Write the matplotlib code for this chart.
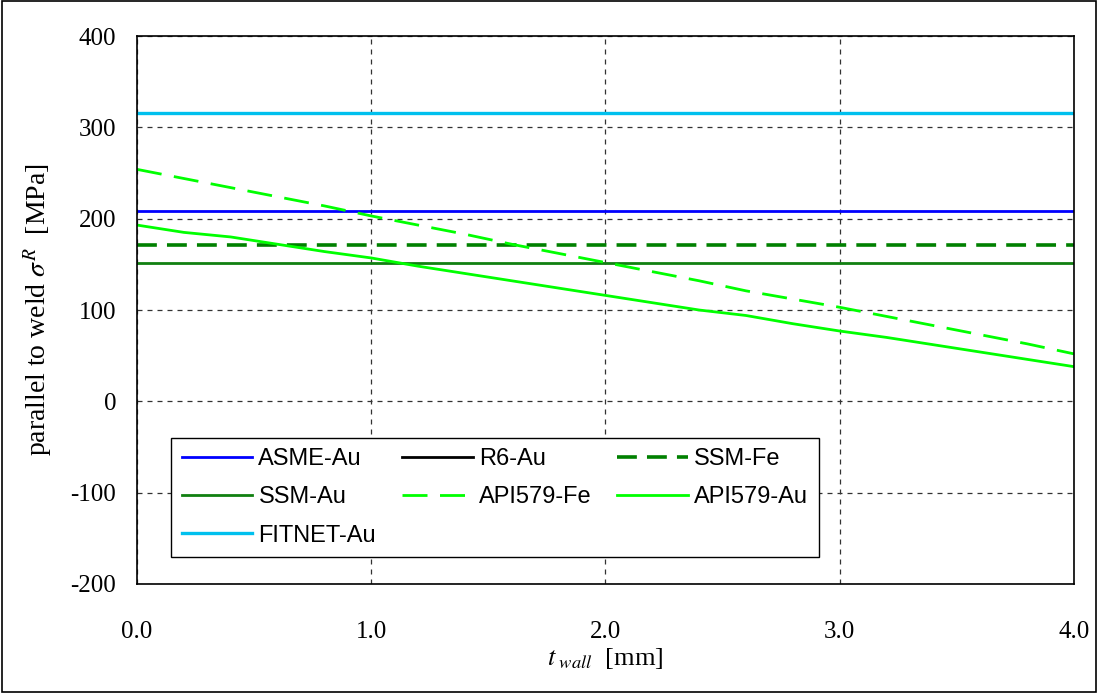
import matplotlib
matplotlib.use('Agg')
import matplotlib.pyplot as plt
from matplotlib.patches import Rectangle

plt.rcParams['font.family'] = ['Liberation Serif', 'DejaVu Serif']
plt.rcParams['mathtext.fontset'] = 'stix'
plt.rcParams['axes.unicode_minus'] = False

# thickness values [mm]
t_wall = [0.0, 0.2, 0.4, 0.6, 0.8, 1.0, 1.2, 1.4, 1.6, 1.8, 2.0,
          2.2, 2.4, 2.6, 2.8, 3.0, 3.2, 3.4, 3.6, 3.8, 4.0]
t_ends = [0.0, 4.0]

# residual stress levels [MPa]
asme_au = [208, 208]
r6_au = [316, 316]
ssm_fe = [171, 171]
ssm_au = [151, 151]
fitnet_au = [316, 316]
api579_fe = [254, 244, 234, 224, 214, 203, 193, 183, 172, 162, 152,
             142, 132, 121, 112, 103, 93, 83, 73, 63, 52]
api579_au = [193, 185, 180, 172, 164, 157, 148, 140, 132, 124, 116,
             108, 100, 94, 85, 77, 70, 62, 54, 46, 38]

xticks = [0.0, 1.0, 2.0, 3.0, 4.0]
yticks = [-200, -100, 0, 100, 200, 300, 400]

fig = plt.figure(figsize=(10.98, 6.93), dpi=100)
ax = fig.add_axes([0.1248, 0.1573, 0.8532, 0.7907])

lw = 2.0
h_asme, = ax.plot(t_ends, asme_au, color='#0000FF', lw=lw, label='ASME-Au')
h_r6, = ax.plot(t_ends, r6_au, color='black', lw=lw, label='R6-Au')
h_ssmfe, = ax.plot(t_ends, ssm_fe, color='#008000', lw=lw * 1.3, dashes=(5.5, 2.8), label='SSM-Fe')
h_ssmau, = ax.plot(t_ends, ssm_au, color='#118011', lw=lw, label='SSM-Au')
h_apife, = ax.plot(t_wall, api579_fe, color='#00FF00', lw=lw, dashes=(9, 4.5), label='API579-Fe')
h_apiau, = ax.plot(t_wall, api579_au, color='#00FF00', lw=lw, label='API579-Au')
h_fit, = ax.plot(t_ends, fitnet_au, color='#00C0EE', lw=lw * 1.2, label='FITNET-Au')

ax.set_xlim(0, 4)
ax.set_ylim(-200, 400)
ax.set_xticks(xticks)
ax.set_xticklabels(['%.1f' % v for v in xticks])
ax.set_yticks(yticks)
ax.tick_params(axis='x', length=0, pad=27, labelsize=18)
ax.tick_params(axis='y', length=0, pad=15, labelsize=18)
ax.grid(True, color='#333333', lw=0.9, dashes=(4, 4))
ax.set_axisbelow(True)
for sp in ax.spines.values():
    sp.set_linewidth(1.2)

ax.set_ylabel(r'parallel to weld $\sigma^{R}$  [MPa]', fontsize=20, labelpad=12)
ax.set_xlabel(r'$t_{\ wall}$  [mm]', fontsize=19, labelpad=2)

# legend is filled column by column, so order gives row-wise reading
handles = [h_asme, h_ssmau, h_fit, h_r6, h_apife, h_ssmfe, h_apiau]
leg = ax.legend(handles=handles, ncol=3, loc='lower left', bbox_to_anchor=(0.0363, 0.049),
                borderaxespad=0, fancybox=False, framealpha=1, edgecolor='black',
                prop={'family': 'Liberation Sans', 'size': 17},
                handlelength=3.0, handletextpad=0.25, columnspacing=1.1,
                labelspacing=0.68, borderpad=0.45)
leg.get_frame().set_linewidth(1.0)

fig.patches.append(Rectangle((0.002, 0.002), 0.996, 0.996, transform=fig.transFigure,
                             fill=False, edgecolor='black', lw=1.2))

fig.savefig('out.png', dpi=100)
